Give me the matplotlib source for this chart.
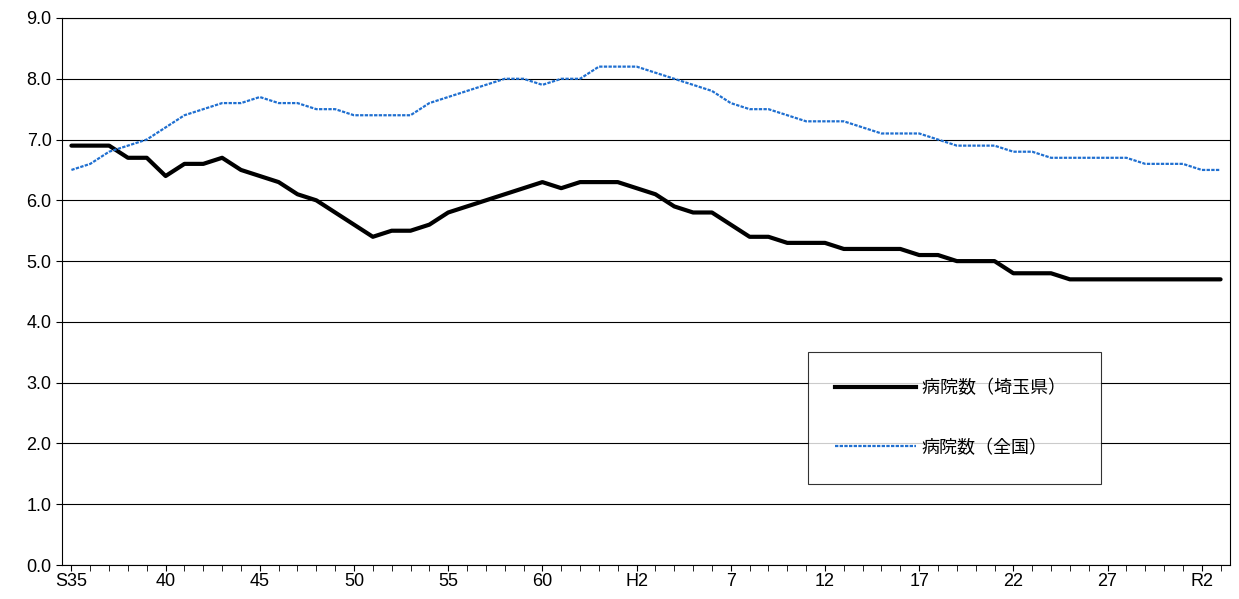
import matplotlib
matplotlib.use("Agg")
import matplotlib.pyplot as plt
import numpy as np
from matplotlib.lines import Line2D

plt.rcParams['font.family'] = ['Noto Sans CJK JP', 'DejaVu Sans']

years = list(range(1960, 2022))
saitama = [6.9,6.9,6.9,6.7,6.7,6.4,6.6,6.6,6.7,6.5,6.4,6.3,6.1,6.0,5.8,5.6,5.4,5.5,5.5,5.6,
           5.8,5.9,6.0,6.1,6.2,6.3,6.2,6.3,6.3,6.3,6.2,6.1,5.9,5.8,5.8,5.6,5.4,5.4,5.3,5.3,
           5.3,5.2,5.2,5.2,5.2,5.1,5.1,5.0,5.0,5.0,4.8,4.8,4.8,4.7,4.7,4.7,4.7,4.7,4.7,4.7,4.7,4.7]
national = [6.5,6.6,6.8,6.9,7.0,7.2,7.4,7.5,7.6,7.6,7.7,7.6,7.6,7.5,7.5,7.4,7.4,7.4,7.4,7.6,
            7.7,7.8,7.9,8.0,8.0,7.9,8.0,8.0,8.2,8.2,8.2,8.1,8.0,7.9,7.8,7.6,7.5,7.5,7.4,7.3,
            7.3,7.3,7.2,7.1,7.1,7.1,7.0,6.9,6.9,6.9,6.8,6.8,6.7,6.7,6.7,6.7,6.7,6.6,6.6,6.6,6.5,6.5]
tick_labels = ['S35','40','45','50','55','60','H2','7','12','17','22','27','R2']

fig = plt.figure(figsize=(12.39, 5.99), dpi=100)
ax = fig.add_axes([62/1239, 1-565/599, (1230-62)/1239, (565-18)/599])
x = np.arange(len(years))
ax.plot(x, saitama, color='black', lw=3, solid_capstyle='round', solid_joinstyle='round')
ax.plot(x, national, color='#1f6fd0', lw=1.6, linestyle=(0, (1.5, 0.6)))
ax.set_xlim(-0.5, len(years)-0.5)
ax.set_ylim(0, 9)
ax.set_yticks(np.arange(0, 9.1, 1))
ax.set_yticklabels([f'{v:.1f}' for v in np.arange(0, 9.1, 1)], fontsize=13, family=['Liberation Sans'])
ax.set_xticks(x[::5])
ax.set_xticklabels(tick_labels, fontsize=13, family=['Liberation Sans'])
ax.set_xticks(x, minor=True)
ax.tick_params(axis='x', which='both', direction='out', length=4, pad=2)
ax.tick_params(axis='y', length=4)
ax.grid(axis='y', color='black', lw=0.8)
ax.set_axisbelow(True)
for s in ax.spines.values():
    s.set_linewidth(0.8)

handles = [Line2D([], [], color='black', lw=3), Line2D([], [], color='#1f6fd0', lw=1.6, linestyle=(0, (1.5, 0.6)))]
leg = ax.legend(handles, ['病院数（埼玉県）  ', '病院数（全国）'], loc='upper left',
                bbox_to_anchor=((808-62)/1168, (565-352)/547), fontsize=13, frameon=True,
                fancybox=False, edgecolor='black', labelspacing=2.3, borderpad=1.5,
                handlelength=4.5, handletextpad=0.3, borderaxespad=0)
leg.get_frame().set_linewidth(0.8)
fig.savefig('out.png', dpi=100)
